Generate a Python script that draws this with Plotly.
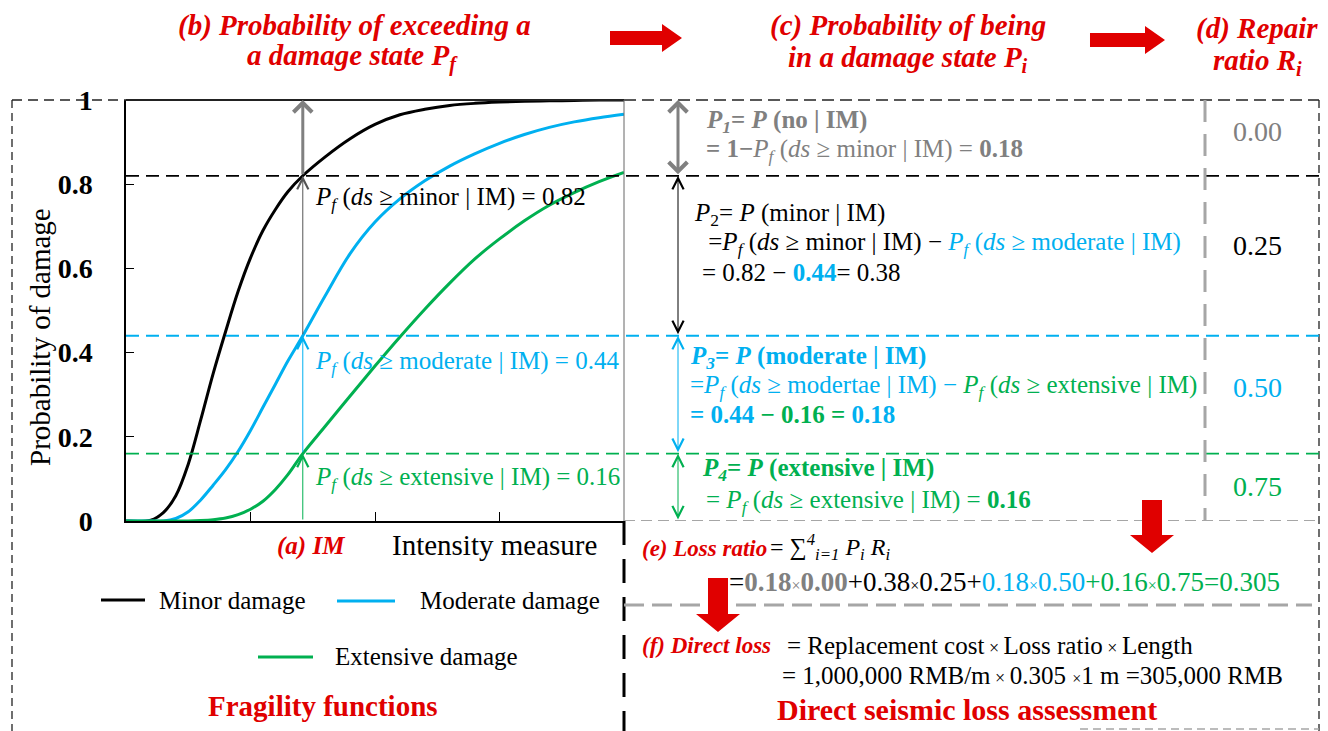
import plotly.graph_objects as go

W, H = 1328, 731
SERIF = "Liberation Serif, Times New Roman, serif"
RED = "#e00000"
BLUE = "#00b0f0"
GREEN = "#00b050"
GREY = "#808080"
LGREY = "#a6a6a6"

# Fragility curves sampled on a common intensity-measure grid
im = [0, 0.2, 0.3, 0.4, 0.5, 0.6, 0.7, 0.8, 0.9, 1.0, 1.1, 1.2, 1.3, 1.42,
      1.6, 1.8, 2.0, 2.2, 2.4, 2.6, 2.8, 3.0, 3.2, 3.4, 3.6, 3.8, 4.0]
p_minor = [0, 0.002, 0.02, 0.06, 0.135, 0.24, 0.35, 0.45, 0.545, 0.625, 0.69,
           0.74, 0.782, 0.82, 0.865, 0.908, 0.942, 0.965, 0.978, 0.987, 0.992,
           0.995, 0.997, 0.998, 0.999, 1.0, 1.0]
p_moderate = [0, 0, 0, 0.006, 0.022, 0.05, 0.085, 0.122, 0.165, 0.215, 0.27,
              0.325, 0.38, 0.44, 0.535, 0.635, 0.71, 0.765, 0.808, 0.843,
              0.872, 0.897, 0.918, 0.935, 0.948, 0.958, 0.966]
p_extensive = [0, 0, 0, 0, 0, 0.001, 0.003, 0.007, 0.015, 0.028, 0.047, 0.075,
               0.11, 0.16, 0.225, 0.297, 0.368, 0.437, 0.503, 0.565, 0.622,
               0.67, 0.713, 0.75, 0.78, 0.806, 0.828]

# Selected intensity level and exceedance probabilities read at it
im_point = 1.42
pf_at_im = [0.82, 0.44, 0.16]          # minor, moderate, extensive
repair_ratio = ["0.00", "0.25", "0.50", "0.75"]
ratio_colors = [GREY, "black", BLUE, GREEN]

y_ticks = [0, 0.2, 0.4, 0.6, 0.8, 1.0]
y_ticktext = ["0", "0.2", "0.4", "0.6", "0.8", "1"]
x_ticks = [1, 2, 3]

curve_names = ["Minor damage", "Moderate damage", "Extensive damage"]
curve_colors = ["black", BLUE, GREEN]


def px(x):
    return x / W


def py(y):
    return 1 - y / H


fig = go.Figure()
for name, vals, col in zip(curve_names, [p_minor, p_moderate, p_extensive], curve_colors):
    fig.add_trace(go.Scatter(x=im, y=vals, mode="lines", name=name,
                             line=dict(color=col, width=3, shape="spline", smoothing=1.0),
                             showlegend=False, cliponaxis=False, hoverinfo="skip"))

shapes = []


def hline_px(x0, x1, y, color, width, dash):
    shapes.append(dict(type="line", xref="paper", yref="paper", x0=px(x0), x1=px(x1),
                       y0=py(y), y1=py(y), line=dict(color=color, width=width, dash=dash)))


def vline_px(x, y0, y1, color, width, dash):
    shapes.append(dict(type="line", xref="paper", yref="paper", x0=px(x), x1=px(x),
                       y0=py(y0), y1=py(y1), line=dict(color=color, width=width, dash=dash)))


# outer dashed frame
vline_px(12, 100, 731, "#222", 1.3, "8px,5px")
vline_px(1319, 100, 731, "#222", 1.3, "8px,5px")
hline_px(12, 126, 100, "#222", 1.5, "10px,6px")
hline_px(624, 1319, 100, "#222", 1.5, "12px,6px")
hline_px(1080, 1319, 729, LGREY, 1.3, "8px,5px")

# plot frame top and right
hline_px(126, 624, 100, "#222", 2, "solid")
vline_px(624, 100, 521, "#666", 1, "solid")

# divider between the two halves
vline_px(624, 521, 731, "black", 3, "24px,14px")

# levels of the exceedance probabilities at the chosen IM
for val, col in zip(pf_at_im, curve_colors):
    shapes.append(dict(type="line", xref="paper", yref="y", x0=px(126), x1=px(1319),
                       y0=val, y1=val, line=dict(color=col, width=1.8, dash="13px,7px")))
shapes.append(dict(type="line", xref="paper", yref="y", x0=px(624), x1=px(1319),
                   y0=0, y1=0, line=dict(color=LGREY, width=2, dash="11px,6px")))

# grey separators of the repair ratio column and loss ratio row
vline_px(1205, 100, 521, LGREY, 3, "22px,12px")
hline_px(624, 1312, 605, LGREY, 3, "20px,8px")

# legend keys
for (x0, x1, y), col in zip([(101, 145, 600), (337, 395, 601), (258, 313, 657)], curve_colors):
    hline_px(x0, x1, y, col, 3, "solid")


def arrow_right(x0, x1, yc, bh=7, hh=14, hl=20):
    pts = [(x0, yc - bh), (x1 - hl, yc - bh), (x1 - hl, yc - hh), (x1, yc),
           (x1 - hl, yc + hh), (x1 - hl, yc + bh), (x0, yc + bh)]
    path = "M " + " L ".join(f"{px(a):.5f},{py(b):.5f}" for a, b in pts) + " Z"
    shapes.append(dict(type="path", xref="paper", yref="paper", path=path,
                       fillcolor=RED, line=dict(width=0)))


def arrow_down(xc, y0, y1, bw=10, hw=22, hl=18):
    pts = [(xc - bw, y0), (xc + bw, y0), (xc + bw, y1 - hl), (xc + hw, y1 - hl),
           (xc, y1), (xc - hw, y1 - hl), (xc - bw, y1 - hl)]
    path = "M " + " L ".join(f"{px(a):.5f},{py(b):.5f}" for a, b in pts) + " Z"
    shapes.append(dict(type="path", xref="paper", yref="paper", path=path,
                       fillcolor=RED, line=dict(width=0)))


arrow_right(610, 682, 38)
arrow_right(1090, 1165, 40)
arrow_down(1152, 500, 553)
arrow_down(718, 578, 632)

annotations = []


def txt(x, y, s, size=25, color="black", anchor="left", angle=0):
    annotations.append(dict(x=px(x), y=py(y), xref="paper", yref="paper", text=s,
                            showarrow=False, xanchor=anchor, yanchor="middle",
                            textangle=angle,
                            font=dict(family=SERIF, size=size, color=color)))


def varrow(x, xref, y_head, y_tail, color, width, both=False, head=5, size=2.0):
    a = dict(x=x, y=y_head, xref=xref, yref="y", ay=y_tail, ayref="y",
             showarrow=True, text="", arrowhead=head, startarrowhead=head,
             arrowsize=size, startarrowsize=size, arrowwidth=width,
             arrowcolor=color, arrowside="end+start" if both else "end")
    if xref == "paper":
        a.update(axref="pixel", ax=0)
    else:
        a.update(axref=xref, ax=x)
    annotations.append(a)


# guide arrows at the selected IM inside the plot
levels = [1.0] + pf_at_im + [0.0]
varrow(im_point, "x", 1.0, pf_at_im[0], GREY, 3, head=4, size=1.2)
varrow(im_point, "x", pf_at_im[0], pf_at_im[1], "#555", 1, head=5, size=2.2)
varrow(im_point, "x", pf_at_im[1], pf_at_im[2], BLUE, 1, head=5, size=2.2)
varrow(im_point, "x", pf_at_im[2], 0.0, GREEN, 1, head=5, size=2.2)

# double arrows spanning each damage-state band
xa = px(678)
varrow(xa, "paper", levels[0], levels[1], GREY, 3, both=True, head=4, size=1.2)
varrow(xa, "paper", levels[1], levels[2], "black", 1, both=True, head=5, size=2.2)
varrow(xa, "paper", levels[2], levels[3], BLUE, 1, both=True, head=5, size=2.2)
varrow(xa, "paper", levels[3], levels[4], GREEN, 1, both=True, head=5, size=2.2)

PF = "<i>P</i><sub><i>f</i></sub>"
bspan = lambda c, s: f"<span style='color:{c}'>{s}</span>"
X = "<span style='font-size:16px'>×</span>"
XL = "<span style='font-size:18px'> × </span>"

# headings
txt(354, 25, "<b><i>(b) Probability of exceeding a</i></b>", 29, RED, "center")
txt(352, 58, "<b><i>a damage state P<sub>f</sub></i></b>", 29, RED, "center")
txt(908, 26, "<b><i>(c) Probability of being</i></b>", 29, RED, "center")
txt(908, 59, "<b><i>in a damage state P<sub>i</sub></i></b>", 29, RED, "center")
txt(1257, 28, "<b><i>(d) Repair</i></b>", 29, RED, "center")
txt(1257, 62, "<b><i>ratio R<sub>i</sub></i></b>", 29, RED, "center")

# axis and curve labels
txt(40, 337, "Probability of damage", 29, "black", "center", -90)
txt(311, 546, "<b><i>(a) IM</i></b>", 25, RED, "center")
txt(494, 545, "Intensity measure", 29, "black", "center")
txt(313, 198, f"{PF} (<i>ds</i> ≥ minor | IM) = 0.82", 25, "black")
txt(313, 362, f"{PF} (<i>ds</i> ≥ moderate | IM) = 0.44", 25, BLUE)
txt(313, 479, f"{PF} (<i>ds</i> ≥ extensive | IM) = 0.16", 25, GREEN)

# legend text
txt(157, 600, curve_names[0], 25)
txt(418, 600, curve_names[1], 25)
txt(333, 656, curve_names[2], 25)
txt(323, 706, "<b>Fragility functions</b>", 29, RED, "center")

# damage-state probabilities
txt(704, 121, "<b><i>P</i><sub><i>1</i></sub>= <i>P</i> (no | IM)</b>", 25, GREY)
txt(704, 150, f"<b>= 1−</b>{PF} (<i>ds</i> ≥ minor | IM) = <b>0.18</b>", 25, GREY)
txt(692, 214, "<i>P</i><sub>2</sub>= <i>P</i> (minor | IM)", 25, "black")
txt(700, 243, f" ={PF} (<i>ds</i> ≥ minor | IM) − "
              + bspan(BLUE, f"{PF} (<i>ds</i> ≥ moderate | IM)"), 25, "black")
txt(700, 272, "= 0.82 − " + bspan(BLUE, "<b>0.44</b>") + "= 0.38", 25, "black")
txt(688, 357, "<b><i>P</i><sub><i>3</i></sub>= <i>P</i> (moderate | IM)</b>", 25, BLUE)
txt(688, 386, f"={PF} (<i>ds</i> ≥ modertae | IM) − "
              + bspan(GREEN, f"{PF} (<i>ds</i> ≥ extensive | IM)"), 25, BLUE)
txt(688, 414, "<b>= 0.44 </b>" + bspan(GREEN, "<b>− 0.16 = </b>") + "<b>0.18</b>", 25, BLUE)
txt(700, 469, "<b><i>P</i><sub><i>4</i></sub>= <i>P</i> (extensive | IM)</b>", 25, GREEN)
txt(704, 501, f"= {PF} (<i>ds</i> ≥ extensive | IM) = <b>0.16</b>", 25, GREEN)

# repair ratios
for r, yy, c in zip(repair_ratio, [131, 245, 387, 487], ratio_colors):
    txt(1257, yy, r, 28, c, "center")

# loss ratio and direct loss
txt(640, 548, "<b><i>(e) Loss ratio</i></b>", 23, RED)
txt(768, 547, "= ∑<sup><i>4</i></sup><sub><i>i=1</i></sub> <i>P<sub>i</sub> R<sub>i</sub></i>",
    24, "black")
txt(727, 582, "=" + bspan(GREY, f"<b>0.18</b>{X}<b>0.00</b>") + f"+0.38{X}0.25+"
              + bspan(BLUE, f"0.18{X}0.50") + bspan(GREEN, f"+0.16{X}0.75=0.305"), 27, "black")
txt(640, 645, "<b><i>(f) Direct loss</i></b>", 23, RED)
txt(785, 645, f"= Replacement cost{XL}Loss ratio{XL}Length", 25, "black")
txt(780, 675, f"= 1,000,000 RMB/m{XL}0.305 {X}1 m =305,000 RMB", 25, "black")
txt(967, 709, "<b>Direct seismic loss assessment</b>", 30, RED, "center")

fig.update_layout(
    width=W, height=H,
    margin=dict(l=0, r=0, t=0, b=0, pad=0, autoexpand=False),
    paper_bgcolor="white", plot_bgcolor="white",
    shapes=shapes, annotations=annotations,
    xaxis=dict(domain=[px(126), px(624)], range=[0, 4], tickvals=x_ticks,
               showticklabels=False, ticks="inside", ticklen=9, tickcolor="black",
               showline=True, linecolor="black", linewidth=2, showgrid=False,
               zeroline=False, fixedrange=True, automargin=False),
    yaxis=dict(domain=[py(521), py(100)], range=[0, 1], tickvals=y_ticks,
               ticktext=[f"<b>{t}</b>" for t in y_ticktext],
               ticks="inside", ticklen=8, tickcolor="black", ticklabelstandoff=26,
               tickfont=dict(family=SERIF, size=28, color="black"),
               showline=True, linecolor="black", linewidth=1.5, showgrid=False,
               zeroline=False, fixedrange=True, automargin=False),
)

fig.write_html("out.html")
